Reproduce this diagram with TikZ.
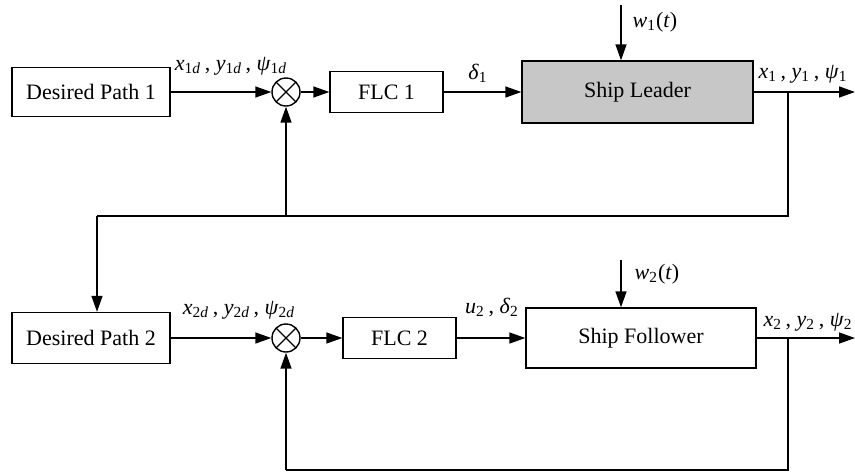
\documentclass[tikz,border=0pt]{standalone}
\usepackage{fontspec}
\setmainfont{Liberation Serif}
\usetikzlibrary{arrows.meta}

\newcommand{\sig}[2]{\textit{#1}\textsubscript{#2}}

\begin{document}
\begin{tikzpicture}[
        x=0.5pt, y=-0.5pt,
        font=\fontsize{11}{13}\selectfont,
        box/.style={rectangle, draw, line width=0.7pt, minimum width=79pt, minimum height=24.5pt, inner sep=0pt},
        sum/.style={circle, draw, line width=0.7pt, minimum size=14pt, inner sep=0pt,
            path picture={\draw[line width=0.6pt] (path picture bounding box.north west) -- (path picture bounding box.south east)
                (path picture bounding box.north east) -- (path picture bounding box.south west);}},
        arrow/.style={-{Triangle[length=8pt,width=5.5pt]}, line width=0.75pt},
        line/.style={line width=0.75pt}
    ]
        \useasboundingbox (0,0) rectangle (855,472);

        % leader loop
        \node[box] (path1) at (91,92) {Desired Path 1};
        \node[sum] (sum1) at (286,92) {};
        \node[box, minimum width=56.5pt, minimum height=20.5pt] (flc1) at (386.5,92) {FLC 1};
        \node[box, fill=black!22, minimum width=115.5pt, minimum height=31pt] (leader) at (637.5,92) {Ship Leader};

        \coordinate (w1in) at (621,5);
        \coordinate (out1) at (855,92);
        \coordinate (tap1) at (788,92);
        \coordinate (fb1) at (788,216);
        \coordinate (drop) at (97,216);

        \draw[arrow] (path1) -- (sum1);
        \draw[arrow] (sum1) -- (flc1);
        \draw[arrow] (flc1) -- (leader);
        \draw[arrow] (w1in) -- (leader.north -| w1in);
        \draw[arrow] (leader) -- (out1);
        \draw[line] (tap1) -- (fb1) -- (drop);
        \draw[arrow] (sum1 |- fb1) -- (sum1);

        \node (ref1) at (231,66) {\sig{x}{1\textit{d}}\,, \sig{y}{1\textit{d}}\,, \sig{ψ}{1\textit{d}}};
        \node (u1) at (478,73) {\sig{δ}{1}};
        \node (dist1) at (655,22) {\sig{w}{1}(\textit{t})};
        \node (pose1) at (803,74) {\sig{x}{1}\,, \sig{y}{1}\,, \sig{ψ}{1}};

        % follower loop
        \node[box, minimum height=25.5pt] (path2) at (91,338) {Desired Path 2};
        \node[sum] (sum2) at (286,338) {};
        \node[box, minimum width=56.5pt, minimum height=20.5pt] (flc2) at (399.5,338) {FLC 2};
        \node[box, minimum width=115pt, minimum height=30pt] (follower) at (641,338) {Ship Follower};

        \coordinate (w2in) at (621,260);
        \coordinate (out2) at (855,338);
        \coordinate (tap2) at (788,338);
        \coordinate (fb2) at (788,470);

        \draw[arrow] (drop) -- (drop |- path2.north);
        \draw[arrow] (path2) -- (sum2);
        \draw[arrow] (sum2) -- (flc2);
        \draw[arrow] (flc2) -- (follower);
        \draw[arrow] (w2in) -- (follower.north -| w2in);
        \draw[arrow] (follower) -- (out2);
        \draw[line] (tap2) -- (fb2) -- (sum2 |- fb2);
        \draw[arrow] (sum2 |- fb2) -- (sum2);

        \node (ref2) at (239,310) {\sig{x}{2\textit{d}}\,, \sig{y}{2\textit{d}}\,, \sig{ψ}{2\textit{d}}};
        \node (u2) at (492,307) {\sig{u}{2}\,, \sig{δ}{2}};
        \node (dist2) at (657,274) {\sig{w}{2}(\textit{t})};
        \node (pose2) at (808,322) {\sig{x}{2}\,, \sig{y}{2}\,, \sig{ψ}{2}};
    \end{tikzpicture}
\end{document}
